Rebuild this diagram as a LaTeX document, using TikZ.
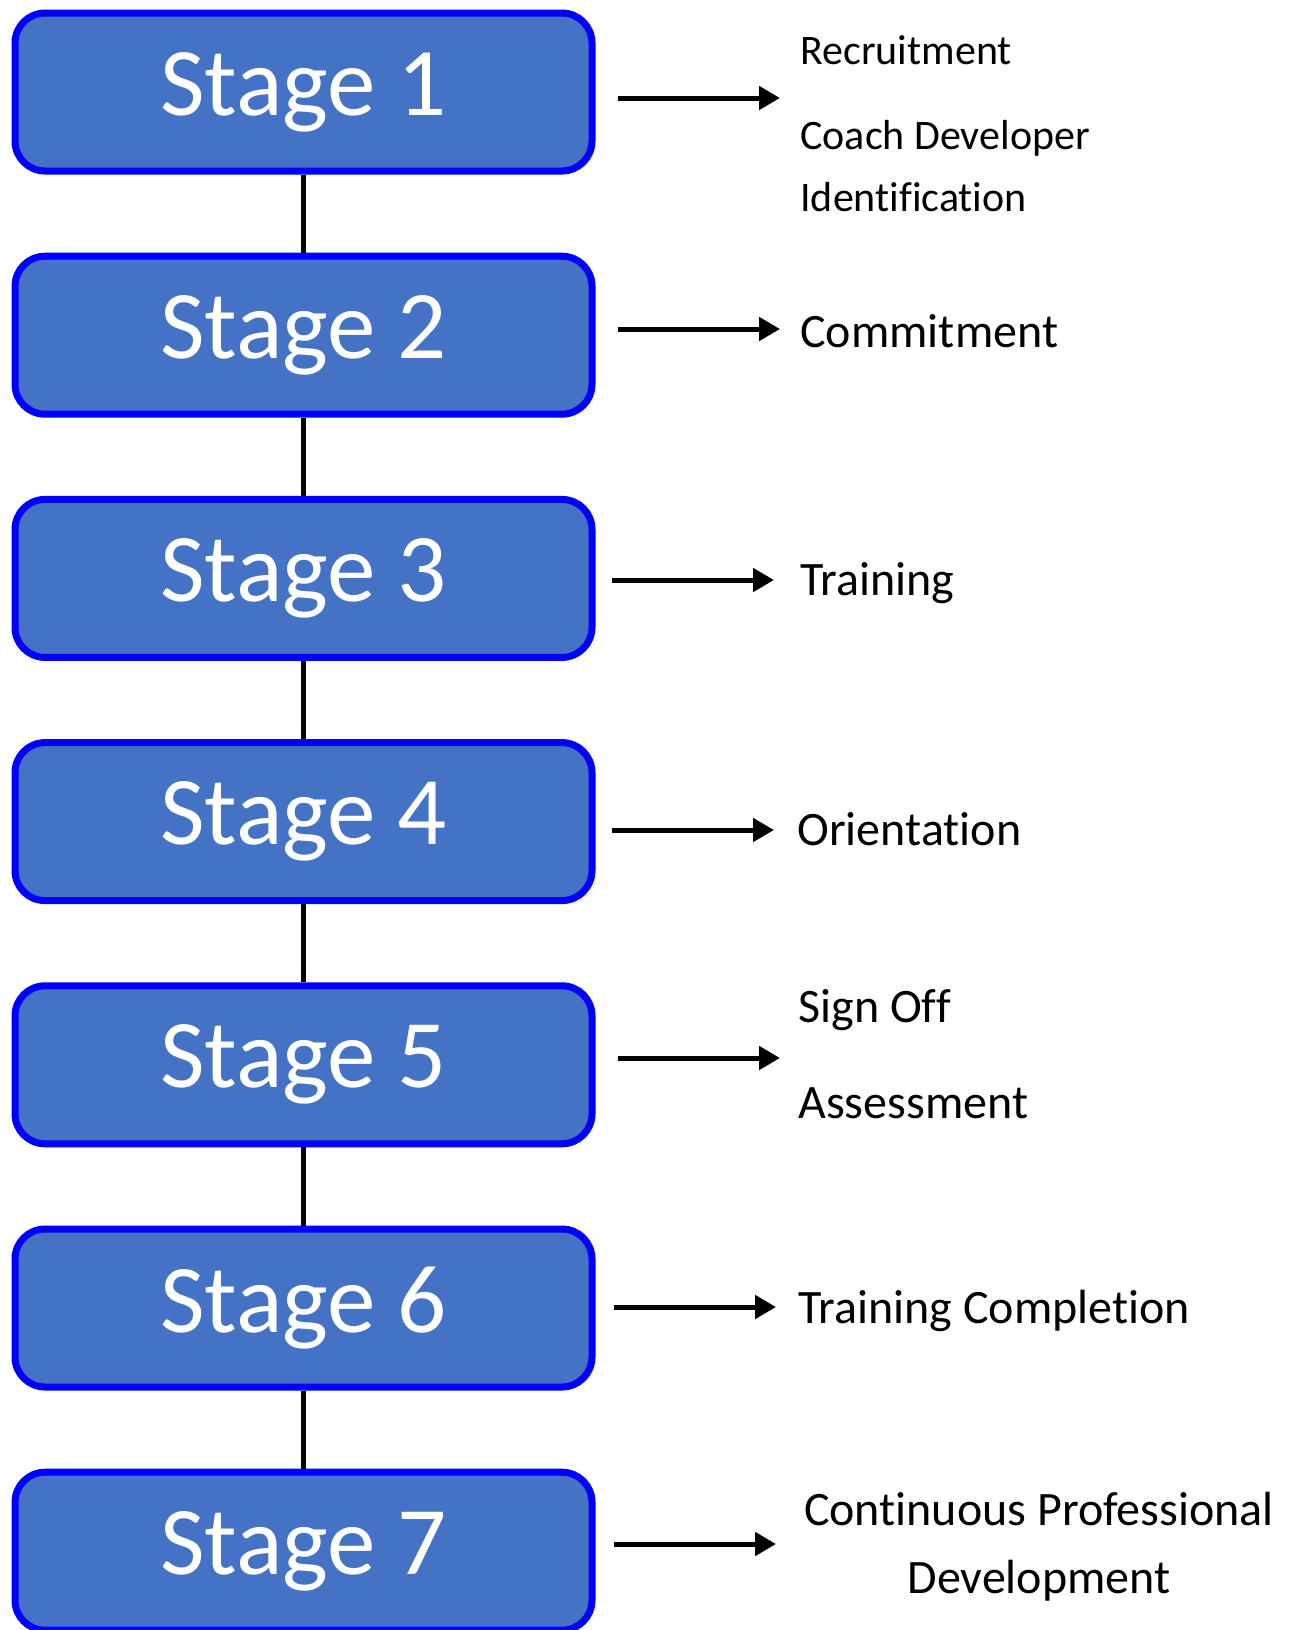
\documentclass[tikz,border=0pt]{standalone}
\usepackage{fontspec}
\setmainfont{Carlito}[Ligatures={NoCommon}]
\usetikzlibrary{arrows.meta}
\definecolor{stagefill}{HTML}{4472C4}
\definecolor{stageline}{HTML}{0000FF}

\begin{document}
\begin{tikzpicture}[x=0.5pt,y=-0.5pt,
  stage/.style={draw=stageline, fill=stagefill, line width=3.5pt, rounded corners=15pt,
    minimum width=288.5pt, minimum height=79pt, text=white, font=\fontsize{48.5}{50}\selectfont},
  link/.style={line width=2.2pt},
  flow/.style={line width=2.5pt, -{Triangle[length=10.5pt,width=11.5pt]}},
  task/.style={anchor=west, inner sep=0pt, font=\fontsize{24}{34}\selectfont},
  smalltask/.style={task, font=\fontsize{21}{28}\selectfont}]
\useasboundingbox (0,0) rectangle (1290,1630);

\foreach \k in {1,...,7} {
\node[stage] (s\k) at (303.5, {92+243.2*(\k-1)}) {Stage \k};
}

\foreach \k [count=\j from 2] in {1,...,6} {
\draw[link] (s\k) -- (s\j);
}

\foreach \k/\ax/\ay in {1/618/98, 2/618/329, 3/612/580, 4/612/830, 5/618/1058, 6/614/1307, 7/614/1544} {
\coordinate (a\k) at (\ax,\ay);
\coordinate (b\k) at (\ax+162,\ay);
\draw[flow] (a\k) -- (b\k);
}

\node[smalltask] (recruit) at (800,50) {Recruitment};
\node[smalltask] (coach) at (800,138) {Coach Developer};
\node[smalltask] (ident) at (800,197) {Identification};
\node[task] (commit) at (800,331) {Commitment};
\node[task] (train) at (800,583) {Training};
\node[task] (orient) at (797,829) {Orientation};
\node[task] (sign) at (798,1010) {Sign Off};
\node[task] (assess) at (798,1103) {Assessment};
\node[task] (complete) at (798,1311) {Training Completion};
\node[task, anchor=center, align=center] (cpd) at (1039,1547) {Continuous Professional\\Development};

\end{tikzpicture}
\end{document}
